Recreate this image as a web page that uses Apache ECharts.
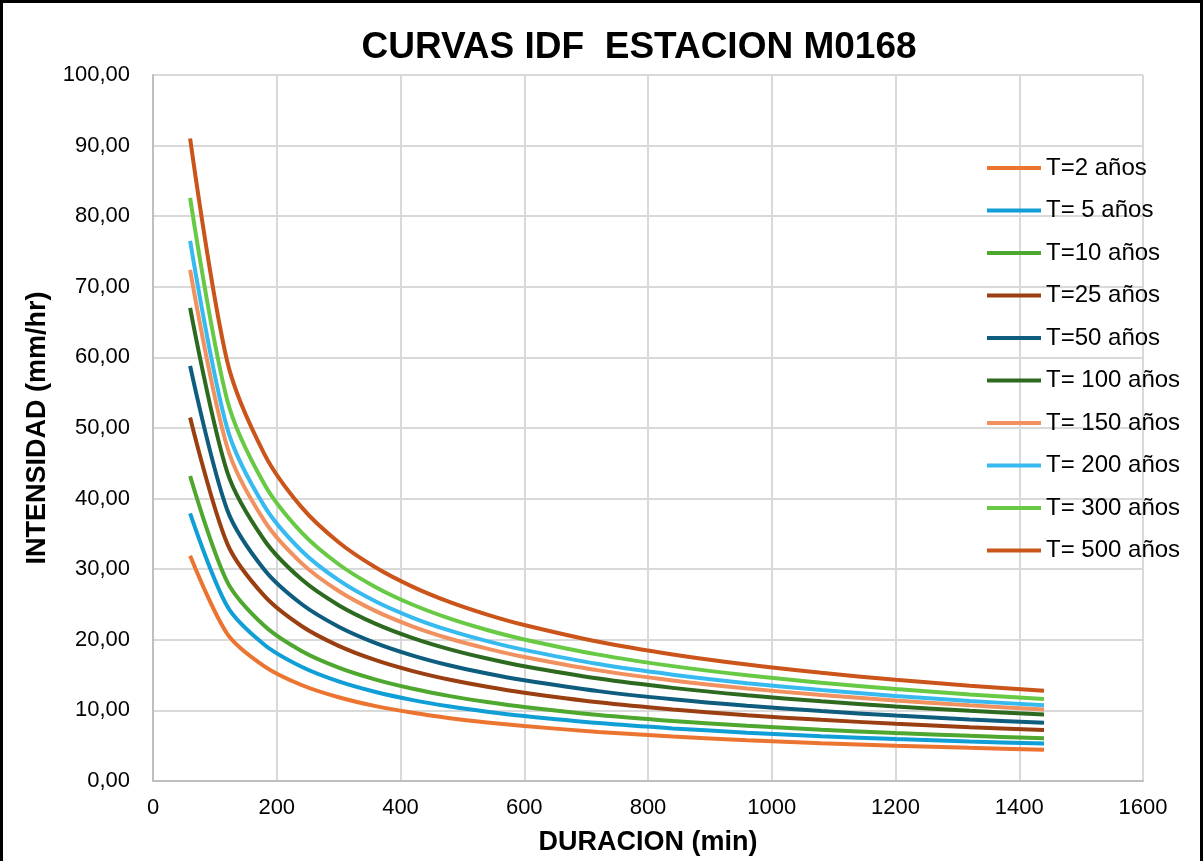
<!DOCTYPE html>
<html>
<head>
<meta charset="utf-8">
<script src="https://cdn.jsdelivr.net/npm/echarts@6/dist/echarts.min.js"></script>
<style>
html,body{margin:0;padding:0;background:#fff;}
#chart{width:1204px;height:861px;}
</style>
</head>
<body>
<div id="chart"></div>
<script>
// Durations (min)
const durations = [60,120,180,240,300,360,420,480,540,600,720,840,960,1080,1200,1320,1440];
// Intensities (mm/hr)
const t2   = [31.90,20.85,16.25,13.60,11.86,10.60,9.66,8.90,8.28,7.78,6.95,6.30,5.78,5.35,5.00,4.70,4.42];
const t5   = [37.90,24.74,19.30,16.18,14.10,12.60,11.46,10.56,9.82,9.20,8.20,7.45,6.85,6.35,5.95,5.60,5.30];
const t10  = [43.20,28.21,21.98,18.42,16.06,14.36,13.06,12.02,11.19,10.48,9.35,8.50,7.82,7.26,6.80,6.40,6.06];
const t25  = [51.50,33.62,26.21,21.95,19.14,17.11,15.56,14.33,13.34,12.50,11.15,10.13,9.32,8.66,8.11,7.63,7.22];
const t50  = [58.80,38.39,29.92,25.07,21.86,19.54,17.77,16.36,15.23,14.27,12.73,11.57,10.65,9.90,9.27,8.72,8.24];
const t100 = [67.00,43.74,34.10,28.56,24.90,22.26,20.25,18.65,17.35,16.26,14.51,13.19,12.14,11.28,10.56,9.94,9.42];
const t150 = [72.40,47.27,36.84,30.86,26.91,24.06,21.88,20.15,18.75,17.57,15.67,14.25,13.11,12.18,11.40,10.72,10.12];
const t200 = [76.50,49.95,38.93,32.61,28.44,25.42,23.12,21.29,19.81,18.57,16.56,15.06,13.86,12.88,12.05,11.34,10.72];
const t300 = [82.60,53.93,42.04,35.21,30.70,27.45,24.96,22.99,21.39,20.05,17.90,16.27,14.97,13.91,13.02,12.26,11.62];
const t500 = [91.00,59.41,46.31,38.79,33.82,30.24,27.50,25.33,23.57,22.09,19.72,17.92,16.49,15.32,14.34,13.50,12.80];

const seriesNames = ['T=2 años','T= 5 años','T=10 años','T=25 años','T=50 años','T= 100 años','T= 150 años','T= 200 años','T= 300 años','T= 500 años'];
const seriesValues = [t2,t5,t10,t25,t50,t100,t150,t200,t300,t500];
const colors = ['#EC7431','#0F9ED5','#4EA72E','#9A3F12','#0E5C7E','#2D6A1F','#F0915F','#36BAEF','#67C944','#CB541A'];

const FONT = '"Liberation Sans", Arial, sans-serif';

const chart = echarts.init(document.getElementById('chart'), null, {renderer:'canvas'});
chart.setOption({
  backgroundColor:'#ffffff',
  animation:false,
  color: colors,
  title:{
    text:'CURVAS IDF  ESTACION M0168',
    left:634, top:24, textAlign:'center',
    textStyle:{fontFamily:FONT, fontWeight:'bold', fontSize:37, color:'#000'}
  },
  graphic:[{
    type:'rect', silent:true, z:100,
    shape:{x:1.5, y:1.5, width:1200, height:920},
    style:{fill:'none', stroke:'#000', lineWidth:3}
  }],
  legend:{
    orient:'vertical', left:987, top:156, padding:0,
    icon:'rect',
    itemWidth:54, itemHeight:4, itemGap:18.5,
    textStyle:{fontFamily:FONT, fontSize:24, color:'#000'},
    data: seriesNames
  },
  grid:{left:153, right:61, top:75, bottom:80, containLabel:false},
  xAxis:{
    type:'value', min:0, max:1600, interval:200,
    name:'DURACION (min)', nameLocation:'middle', nameGap:48,
    nameTextStyle:{fontFamily:FONT, fontWeight:'bold', fontSize:27, color:'#000'},
    axisLine:{show:true, lineStyle:{color:'#BFBFBF', width:2}},
    axisTick:{show:false},
    axisLabel:{fontFamily:FONT, fontSize:22, color:'#000', margin:16,
      formatter:function(v){return String(v);}},
    splitLine:{show:true, lineStyle:{color:'#D9D9D9', width:2}}
  },
  yAxis:{
    type:'value', min:0, max:100, interval:10,
    name:'INTENSIDAD (mm/hr)', nameLocation:'middle', nameGap:102,
    nameTextStyle:{fontFamily:FONT, fontWeight:'bold', fontSize:27, color:'#000'},
    axisLine:{show:true, lineStyle:{color:'#BFBFBF', width:2}},
    axisTick:{show:false},
    axisLabel:{fontFamily:FONT, fontSize:22, color:'#000', margin:23,
      formatter:function(v){return v.toFixed(2).replace('.',',');}},
    splitLine:{show:true, lineStyle:{color:'#D9D9D9', width:2}}
  },
  series: seriesNames.map(function(name,i){
    return {
      name:name, type:'line', symbol:'none', smooth:0.3,
      lineStyle:{width:4, color:colors[i]},
      itemStyle:{color:colors[i]},
      data: durations.map(function(d,j){return [d, seriesValues[i][j]];})
    };
  })
});
</script>
</body>
</html>
